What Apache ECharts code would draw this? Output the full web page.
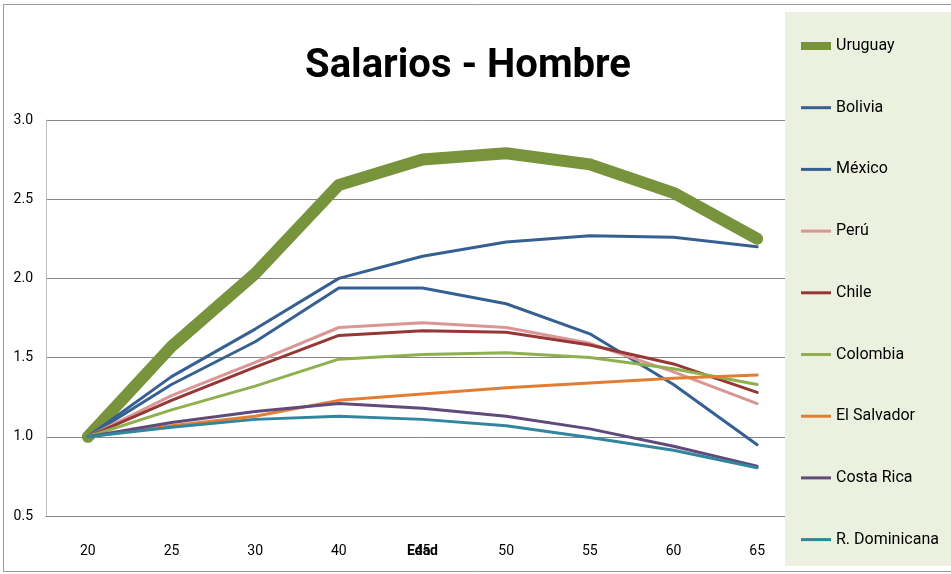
<!DOCTYPE html>
<html>
<head>
<meta charset="utf-8">
<script src="https://cdn.jsdelivr.net/npm/echarts@6/dist/echarts.min.js"></script>
<style>
  html, body { margin: 0; padding: 0; background: #fff; }
  #chart { width: 951px; height: 574px; }
</style>
</head>
<body>
<div id="chart"></div>
<script>
// edades (eje x)
var edades = ["20", "25", "30", "40", "45", "50", "55", "60", "65"];
// salario relativo a los 20 años, por país
var uruguay = [1.0, 1.57, 2.03, 2.59, 2.75, 2.79, 2.72, 2.54, 2.25];
var bolivia = [1.0, 1.38, 1.68, 2.0, 2.14, 2.23, 2.27, 2.26, 2.2];
var mexico = [1.0, 1.33, 1.6, 1.94, 1.94, 1.84, 1.65, 1.33, 0.95];
var peru = [1.0, 1.26, 1.47, 1.69, 1.72, 1.69, 1.59, 1.41, 1.21];
var chile = [1.0, 1.23, 1.44, 1.64, 1.67, 1.66, 1.58, 1.46, 1.28];
var colombia = [1.0, 1.17, 1.32, 1.49, 1.52, 1.53, 1.5, 1.43, 1.33];
var elSalvador = [1.0, 1.07, 1.13, 1.23, 1.27, 1.31, 1.34, 1.37, 1.39];
var costaRica = [1.0, 1.09, 1.16, 1.21, 1.18, 1.13, 1.05, 0.94, 0.815];
var rDominicana = [1.0, 1.06, 1.11, 1.13, 1.11, 1.07, 0.995, 0.915, 0.805];

var fuente = "Roboto, 'Noto Sans', sans-serif";
var lineaFina = "path://M0,0L30,0L30,3L0,3Z";
var lineaGruesa = "path://M0,0L30,0L30,8L0,8Z";

function serie(nombre, datos, color, ancho) {
  return {
    name: nombre,
    type: "line",
    data: datos,
    symbol: "none",
    smooth: false,
    lineStyle: { color: color, width: ancho, cap: "round", join: "round" },
    itemStyle: { color: color }
  };
}

var nombres = ["Uruguay", "Bolivia", "México", "Perú", "Chile", "Colombia", "El Salvador", "Costa Rica", "R. Dominicana"];

var chart = echarts.init(document.getElementById("chart"));
chart.setOption({
  animation: false,
  backgroundColor: "#fff",
  title: {
    text: "Salarios - Hombre",
    left: 463,
    textAlign: "center",
    top: 42,
    textStyle: { fontFamily: fuente, fontSize: 40, fontWeight: "bold", color: "#000" }
  },
  graphic: [
    // marco del gráfico
    {
      type: "rect", z: 1,
      shape: { x: 3.5, y: 4.5, width: 960, height: 567 },
      style: { fill: null, stroke: "#9a9a9a", lineWidth: 1 }
    },
    // fondo de la leyenda
    {
      type: "rect", z: 10,
      shape: { x: 785, y: 12, width: 170, height: 554 },
      style: { fill: "#EBF1DE", stroke: null }
    }
  ],
  legend: {
    z: 20,
    orient: "vertical",
    left: 801,
    top: 38,
    height: 540,
    padding: 0,
    itemWidth: 30,
    itemHeight: 14,
    itemGap: 45.7,
    data: nombres.map(function (n, i) {
      return { name: n, icon: i === 0 ? lineaGruesa : lineaFina };
    }),
    textStyle: { fontFamily: fuente, fontSize: 16, color: "#000", lineHeight: 14 }
  },
  grid: { left: 46, right: 152, top: 120, bottom: 58 },
  xAxis: {
    type: "category",
    data: edades,
    boundaryGap: true,
    name: "Edad",
    nameLocation: "middle",
    nameGap: 28,
    nameMoveOverlap: false,
    nameTextStyle: { fontFamily: fuente, fontSize: 14, fontWeight: "bold", color: "#000" },
    axisLine: { lineStyle: { color: "#868686" } },
    axisTick: { show: false },
    axisLabel: { margin: 28, fontFamily: fuente, fontSize: 14, color: "#000" }
  },
  yAxis: {
    type: "value",
    min: 0.5,
    max: 3.0,
    interval: 0.5,
    axisLine: { show: true, lineStyle: { color: "#c0c0c0" } },
    axisTick: { show: false },
    axisLabel: {
      margin: 13, fontFamily: fuente, fontSize: 14, color: "#000",
      formatter: function (v) { return v.toFixed(1); }
    },
    splitLine: { lineStyle: { color: "#868686" } }
  },
  series: [
    serie("Uruguay", uruguay, "#77933C", 12),
    serie("Bolivia", bolivia, "#376092", 3),
    serie("México", mexico, "#376092", 3),
    serie("Perú", peru, "#D99694", 3),
    serie("Chile", chile, "#953735", 3),
    serie("Colombia", colombia, "#8EB04F", 3),
    serie("El Salvador", elSalvador, "#E37D34", 3),
    serie("Costa Rica", costaRica, "#604A7B", 3),
    serie("R. Dominicana", rDominicana, "#31859C", 3)
  ]
});
</script>
</body>
</html>
